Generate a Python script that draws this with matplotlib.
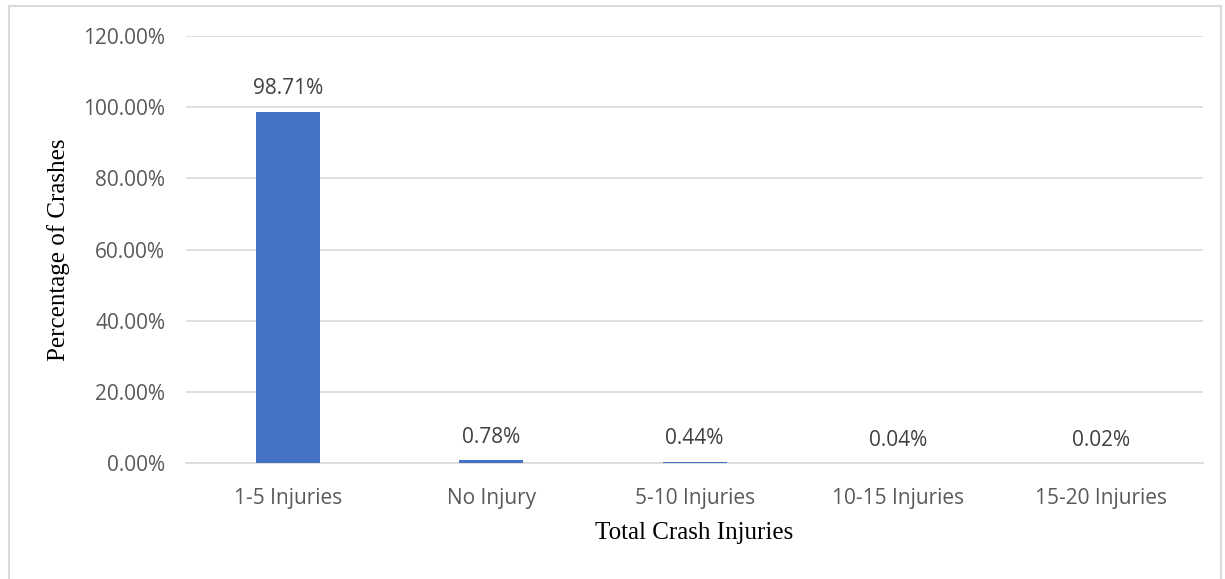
import matplotlib.pyplot as plt
from matplotlib.ticker import FuncFormatter
from matplotlib.patches import Rectangle

categories = ['1-5 Injuries', 'No Injury', '5-10 Injuries', '10-15 Injuries', '15-20 Injuries']
percentages = [98.71, 0.78, 0.44, 0.04, 0.02]

fig = plt.figure(figsize=(12.25, 5.79), dpi=100)
ax = fig.add_axes([0.152, 0.2, 0.830, 0.738])

x = range(len(categories))
bars = ax.bar(x, percentages, width=0.315, color='#4472C4', zorder=3)

for xi, v in zip(x, percentages):
    ax.annotate(f'{v:.2f}%', (xi, v), xytext=(0, 9), textcoords='offset points',
                ha='center', va='bottom', fontsize=15, color='#404040', family='Open Sans')

ax.set_xlim(-0.5, len(categories) - 0.5)
ax.set_ylim(0, 120)
ax.set_yticks(range(0, 121, 20))
ax.yaxis.set_major_formatter(FuncFormatter(lambda v, p: f'{v:.2f}%'))
ax.set_xticks(list(x))
ax.set_xticklabels(categories)
ax.grid(axis='y', color='#d9d9d9', linewidth=1.2, zorder=0)
for s in ['top', 'right', 'left']:
    ax.spines[s].set_visible(False)
ax.spines['bottom'].set_color('#d9d9d9')
ax.spines['bottom'].set_linewidth(1.2)
ax.tick_params(length=0, labelsize=15, labelcolor='#595959')
ax.tick_params(axis='x', pad=18)
ax.tick_params(axis='y', pad=15)
for lbl in ax.get_xticklabels() + ax.get_yticklabels():
    lbl.set_family('Open Sans')

ax.set_xlabel('Total Crash Injuries', family='Liberation Serif', fontsize=18, va='center')
ax.xaxis.set_label_coords(0.5, -0.164)
ax.set_ylabel('Percentage of Crashes', family='Liberation Serif', fontsize=18, va='center')
ax.yaxis.set_label_coords(-0.126, 0.5)

# light frame around the whole chart
fig.patches.append(Rectangle((0.007, -0.01), 0.99, 1.0, transform=fig.transFigure,
                             fill=False, edgecolor='#d9d9d9', linewidth=1.5))

fig.savefig('out.png', dpi=100)
